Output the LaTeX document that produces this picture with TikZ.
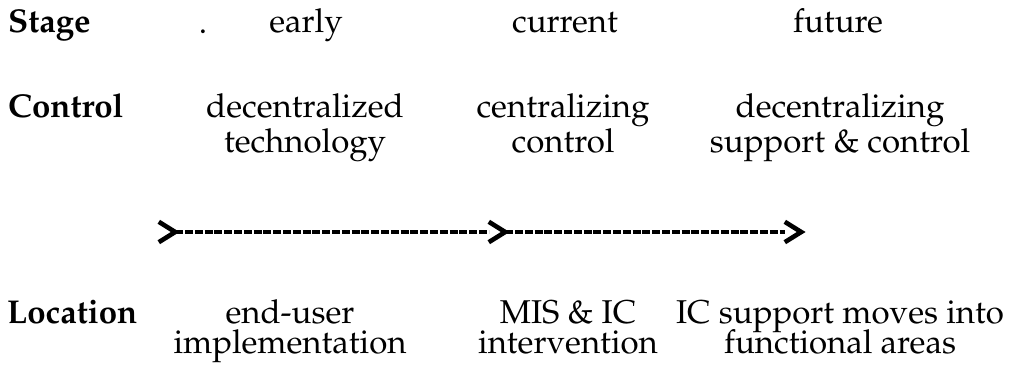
\documentclass[tikz,border=0pt]{standalone}
\usepackage[T1]{fontenc}
\usepackage{mathpazo}
\begin{document}
\begin{tikzpicture}[x=1pt,y=-1pt,
  lab/.style={inner sep=0pt, anchor=base west, font=\fontsize{33}{35}\selectfont\bfseries},
  txt/.style={inner sep=0pt, anchor=base, font=\fontsize{33}{35}\selectfont},
  chev/.style={inner sep=0pt, minimum width=16pt, minimum height=20pt},
  chevline/.style={line width=4.6pt, line join=miter, line cap=butt},
  dline/.style={line width=4.6pt, dash pattern=on 8pt off 1.8pt}]
\useasboundingbox (0,0) rectangle (1013,372);
% row labels
\node[lab] (stage) at (8,32) {Stage};
\node[lab] (control) at (8,117) {Control};
\node[lab] (location) at (7,323) {Location};
% stage row
\node[txt] (dot) at (203,33) {.};
\node[txt] (early) at (306,32) {early};
\node[txt] (current) at (565,32) {current};
\node[txt] (future) at (838,32) {future};
% control row
\node[txt] (c1) at (305,117) {\begin{tabular}[t]{@{}c@{}}decentralized\\technology\end{tabular}};
\node[txt] (c2) at (563,117) {\begin{tabular}[t]{@{}c@{}}centralizing\\control\end{tabular}};
\node[txt] (c3) at (840,117) {\begin{tabular}[t]{@{}c@{}}decentralizing\\support \& control\end{tabular}};
% arrow
\node[chev] (g1) at (167,232) {};
\node[chev] (g2) at (497,232) {};
\node[chev] (g3) at (793,232) {};
\foreach \g in {g1,g2,g3}
  \draw[chevline] (\g.north west) -- (\g.east) -- (\g.south west);
\draw[dline] (g1.east) -- (g2.west);
\draw[dline] (g2.east) -- (g3.west);
% location row
\node[txt] (l1) at (290,323) {\begin{tabular}[t]{@{}c@{}}end-user\\[-5pt]implementation\end{tabular}};
\node[txt] (l2) at (568,323) {\begin{tabular}[t]{@{}c@{}}MIS \& IC\\[-5pt]intervention\end{tabular}};
\node[txt] (l3) at (840,323) {\begin{tabular}[t]{@{}c@{}}IC support moves into\\[-5pt]functional areas\end{tabular}};
\end{tikzpicture}
\end{document}
